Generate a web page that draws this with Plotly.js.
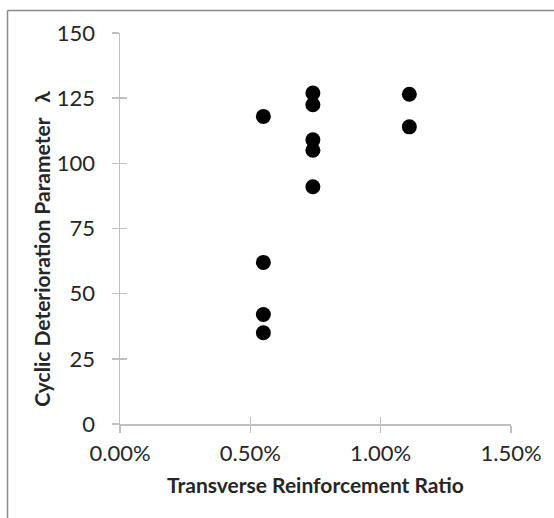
<!DOCTYPE html>
<html>
<head>
<meta charset="utf-8">
<script src="https://cdn.plot.ly/plotly-3.0.1.min.js"></script>
<style>html,body{margin:0;padding:0;background:#fff;}#chart{width:554px;height:518px;}</style>
</head>
<body>
<div id="chart"></div>
<script>
// Transverse reinforcement ratio (fraction) and cyclic deterioration parameter lambda
const ratio = [0.0055, 0.0055, 0.0055, 0.0055, 0.0074, 0.0074, 0.0074, 0.0074, 0.0074, 0.0111, 0.0111];
const lambda = [118, 62, 42, 35, 127, 122.5, 109, 105, 91, 126.5, 114];
const xTicks = [0, 0.005, 0.01, 0.015];
const yTicks = [0, 25, 50, 75, 100, 125, 150];

const axisGray = '#bfbfbf';
const tickFont = {family: 'Lato, "Open Sans", sans-serif', size: 22, color: '#262626'};
const titleFont = {family: 'Lato, "Open Sans", sans-serif', size: 21, color: '#262626', weight: 'bold'};

const trace = {
  x: ratio, y: lambda, type: 'scatter', mode: 'markers',
  marker: {color: '#000000', size: 15},
  hoverinfo: 'x+y', showlegend: false
};
// invisible companion trace so the overlay axes (inner half of the cross tick marks) are drawn
const tickTrace = {x: ratio, y: lambda, type: 'scatter', mode: 'markers', xaxis: 'x2', yaxis: 'y2',
  marker: {opacity: 0, size: 1}, showlegend: false, hoverinfo: 'skip'};

const layout = {
  width: 554, height: 518,
  margin: {l: 120, r: 43, t: 33, b: 94},
  paper_bgcolor: '#ffffff', plot_bgcolor: '#ffffff',
  font: tickFont,
  showlegend: false,
  xaxis: {
    range: [0, 0.015], tickvals: xTicks, tickformat: '.2%',
    showgrid: false, zeroline: false,
    showline: true, linecolor: axisGray, linewidth: 1.5,
    ticks: 'outside', ticklen: 7, tickwidth: 1.5, tickcolor: axisGray,
    ticklabelstandoff: 2,
    tickfont: tickFont,
    title: {text: 'Transverse Reinforcement Ratio', font: titleFont, standoff: 13},
    fixedrange: true
  },
  yaxis: {
    range: [0, 150], tickvals: yTicks,
    showgrid: false, zeroline: false,
    showline: true, linecolor: axisGray, linewidth: 1.5,
    ticks: 'outside', ticklen: 7, tickwidth: 1.5, tickcolor: axisGray,
    ticklabelstandoff: 12,
    tickfont: tickFont,
    title: {text: 'Cyclic Deterioration Parameter&nbsp;&nbsp;&nbsp;λ&nbsp;&nbsp;&nbsp;&nbsp;&nbsp;&nbsp;&nbsp;&nbsp;', font: titleFont, standoff: 0},
    fixedrange: true
  },
  xaxis2: {
    overlaying: 'x', anchor: 'y2', side: 'bottom',
    range: [0, 0.015], tickvals: xTicks, showticklabels: false,
    showgrid: false, zeroline: false, showline: false,
    ticks: 'inside', ticklen: 7, tickwidth: 1.5, tickcolor: axisGray, fixedrange: true
  },
  yaxis2: {
    overlaying: 'y', anchor: 'x2', side: 'left',
    range: [0, 150], tickvals: yTicks, showticklabels: false,
    showgrid: false, zeroline: false, showline: false,
    ticks: 'inside', ticklen: 7, tickwidth: 1.5, tickcolor: axisGray, fixedrange: true
  },
  shapes: [
    {type: 'line', xref: 'paper', yref: 'paper', x0: -0.2877, x1: 1.2, y0: 1.0575, y1: 1.0575, line: {color: '#8a8a8a', width: 1.5}},
    {type: 'line', xref: 'paper', yref: 'paper', x0: -0.2877, x1: -0.2877, y0: 1.0575, y1: -0.3, line: {color: '#8a8a8a', width: 1.5}}
  ]
};

Plotly.newPlot('chart', [trace, tickTrace], layout, {displayModeBar: false, staticPlot: true});
</script>
</body>
</html>
